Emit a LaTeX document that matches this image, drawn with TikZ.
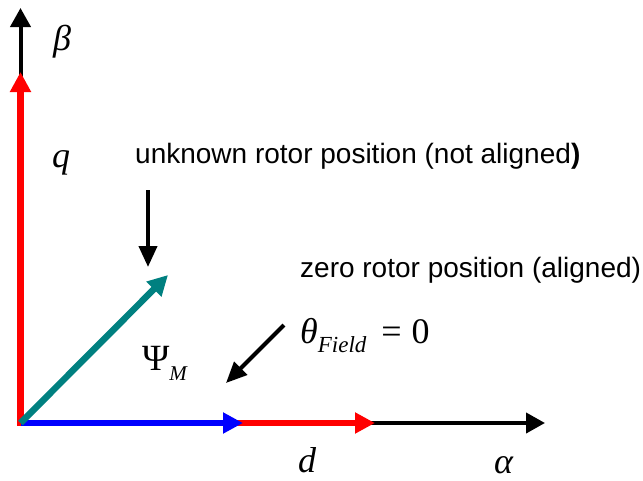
\documentclass[tikz,border=0pt]{standalone}
\usepackage{fontspec}
\setmainfont{Liberation Sans}
\newfontfamily\symfont{Liberation Serif}
\usetikzlibrary{arrows.meta}
\definecolor{axred}{RGB}{255,0,0}
\definecolor{axblue}{RGB}{0,0,255}
\definecolor{fluxteal}{RGB}{0,128,128}

\tikzset{
  axisline/.style={line width=4pt,-{Triangle[length=19pt,width=20pt]}},
  dqline/.style={line width=6.5pt,-{Triangle[length=20pt,width=20pt]}},
  pointer/.style={line width=4pt,-{Triangle[length=21pt,width=18pt]}},
  txt/.style={font=\fontsize{28}{32}\selectfont,inner sep=0pt},
  sym/.style={font=\fontsize{36}{40}\selectfont\symfont\itshape,inner sep=0pt},
}

\begin{document}
\begin{tikzpicture}[x=1pt,y=-1pt]
  \useasboundingbox (0,0) rectangle (643,480);
  % frame points
  \coordinate (O) at (20.5,423);
  \coordinate (alphaTip) at (545,423);
  \coordinate (betaTip) at (20.5,8);
  \coordinate (dTip) at (375,423);
  \coordinate (qTip) at (20.5,72);
  \coordinate (idTip) at (243,423);
  \coordinate (psiTip) at (168,275);
  % stationary alpha/beta axes
  \draw[axisline] (O) -- (alphaTip);
  \draw[axisline] (O) -- (betaTip);
  % rotor d/q axes
  \draw[dqline,axred,line cap=rect] (O) -- (qTip);
  \draw[dqline,axred] (O) -- (dTip);
  \draw[dqline,axblue] (O) -- (idTip);
  % flux vector
  \draw[dqline,fluxteal] (O) -- (psiTip);
  % axis labels
  \node[sym,anchor=base west] (lblBeta) at (53,50) {β};
  \node[sym,anchor=base west] (lblQ) at (52,167) {q};
  \node[sym,anchor=base west] (lblD) at (298,472) {d};
  \node[sym,anchor=base west] (lblAlpha) at (494,473) {α};
  \node[sym,anchor=base west,font=\fontsize{37}{40}\selectfont\symfont] (lblPsi) at (142,370)
    {Ψ\raisebox{-10pt}{\fontsize{21}{24}\selectfont\itshape M}};
  \node[sym,anchor=base west] (lblTheta) at (300,343)
    {θ\raisebox{-9pt}{\fontsize{23}{26}\selectfont Field}\hspace{15pt}{\upshape =\hspace{10pt}0}};
  % annotations
  \node[txt,anchor=base west] (txtUnknown) at (135,163) {unknown rotor position (not aligned\textbf{)}};
  \node[txt,anchor=base west] (txtZero) at (300,277) {zero rotor position (aligned)};
  \coordinate (unkStart) at (148,190);
  \coordinate (unkEnd) at (148,267);
  \coordinate (zeroStart) at (284,325);
  \coordinate (zeroEnd) at (226,383);
  \draw[pointer] (unkStart) -- (unkEnd);
  \draw[pointer] (zeroStart) -- (zeroEnd);
\end{tikzpicture}
\end{document}
